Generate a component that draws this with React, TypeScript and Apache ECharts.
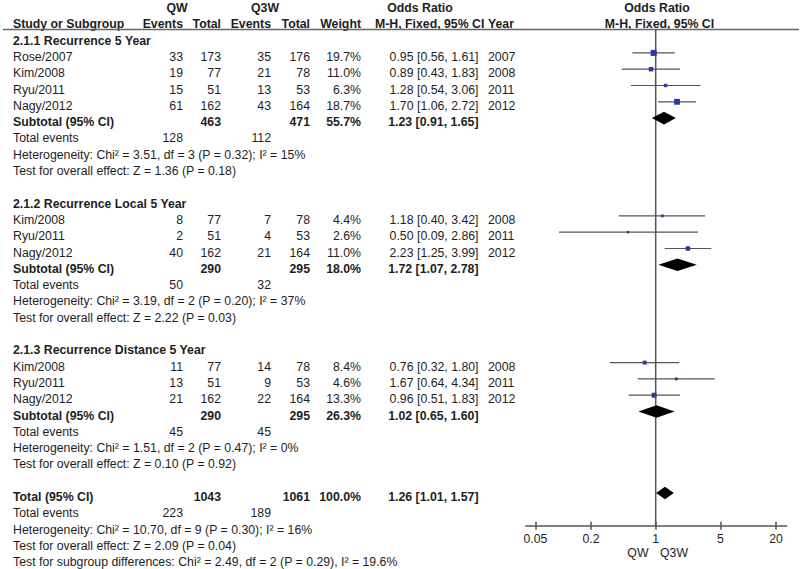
import React, { useEffect, useRef } from "react";
import * as echarts from "echarts";

// ---------- data ----------
const groupTitles = [
  "2.1.1 Recurrence 5 Year",
  "2.1.2 Recurrence Local 5 Year",
  "2.1.3 Recurrence Distance 5 Year",
];
const studyGroup = [0, 0, 0, 0, 1, 1, 1, 2, 2, 2];
const studyNames = [
  "Rose/2007", "Kim/2008", "Ryu/2011", "Nagy/2012",
  "Kim/2008", "Ryu/2011", "Nagy/2012",
  "Kim/2008", "Ryu/2011", "Nagy/2012",
];
const qwEvents = [33, 19, 15, 61, 8, 2, 40, 11, 13, 21];
const qwTotal = [173, 77, 51, 162, 77, 51, 162, 77, 51, 162];
const q3wEvents = [35, 21, 13, 43, 7, 4, 21, 14, 9, 22];
const q3wTotal = [176, 78, 53, 164, 78, 53, 164, 78, 53, 164];
const weights = [19.7, 11.0, 6.3, 18.7, 4.4, 2.6, 11.0, 8.4, 4.6, 13.3];
const oddsRatio = [0.95, 0.89, 1.28, 1.7, 1.18, 0.5, 2.23, 0.76, 1.67, 0.96];
const ciLow = [0.56, 0.43, 0.54, 1.06, 0.4, 0.09, 1.25, 0.32, 0.64, 0.51];
const ciHigh = [1.61, 1.83, 3.06, 2.72, 3.42, 2.86, 3.99, 1.8, 4.34, 1.83];
const years = [2007, 2008, 2011, 2012, 2008, 2011, 2012, 2008, 2011, 2012];

const subQwTotal = [463, 290, 290];
const subQ3wTotal = [471, 295, 295];
const subWeight = [55.7, 18.0, 26.3];
const subOR = [1.23, 1.72, 1.02];
const subLow = [0.91, 1.07, 0.65];
const subHigh = [1.65, 2.78, 1.6];
const subQwEvents = [128, 50, 45];
const subQ3wEvents = [112, 32, 45];
const subHet = [
  "Heterogeneity: Chi² = 3.51, df = 3 (P = 0.32); I² = 15%",
  "Heterogeneity: Chi² = 3.19, df = 2 (P = 0.20); I² = 37%",
  "Heterogeneity: Chi² = 1.51, df = 2 (P = 0.47); I² = 0%",
];
const subTest = [
  "Test for overall effect: Z = 1.36 (P = 0.18)",
  "Test for overall effect: Z = 2.22 (P = 0.03)",
  "Test for overall effect: Z = 0.10 (P = 0.92)",
];

const totalQwTotal = 1043;
const totalQ3wTotal = 1061;
const totalWeight = 100.0;
const totalOR = 1.26;
const totalLow = 1.01;
const totalHigh = 1.57;
const totalQwEvents = 223;
const totalQ3wEvents = 189;
const totalHet = "Heterogeneity: Chi² = 10.70, df = 9 (P = 0.30); I² = 16%";
const totalTest = "Test for overall effect: Z = 2.09 (P = 0.04)";
const subgroupTest = "Test for subgroup differences: Chi² = 2.49, df = 2 (P = 0.29), I² = 19.6%";

const axisTickValues = [0.05, 0.2, 1, 5, 20];

// ---------- layout ----------
const FONT = '"Liberation Sans", Arial, Helvetica, sans-serif';
const FS = 12.3;
const TXT = "#1e1e1e";
const ROW0 = 4;
const ROWH = 16.3;
const GRID_LEFT = 525.7;
const GRID_W = 261;
const AXIS_Y = 525.7;
const YMAX = (AXIS_Y - ROW0) / ROWH;
const XMIN = -1.4054;
const XMAX = 1.4162;
const HEADER_LINE_Y = 29.5;

const COL = {
  study: 13,
  qwEv: 183,
  qwTot: 221,
  q3wEv: 271,
  q3wTot: 310,
  weight: 361,
  or: 478.5,
  year: 488,
};

const textY = (row: number) => ROW0 + ROWH * row + 4;

function txt(text: string, x: number, y: number, align: string, bold = false) {
  return {
    type: "text",
    x,
    y,
    silent: true,
    style: {
      text,
      fill: TXT,
      font: `${bold ? "bold " : ""}${FS}px ${FONT}`,
      align,
      textAlign: align,
      verticalAlign: "middle",
      textVerticalAlign: "middle",
    },
  };
}

const fmtOR = (o: number, l: number, h: number) =>
  `${o.toFixed(2)} [${l.toFixed(2)}, ${h.toFixed(2)}]`;

function buildOption() {
  const graphics: any[] = [];
  const studyData: any[] = [];
  const diamondData: any[] = [];

  // headers
  graphics.push(txt("QW", 177, textY(0), "center", true));
  graphics.push(txt("Q3W", 265, textY(0), "center", true));
  graphics.push(txt("Odds Ratio", 420, textY(0), "center", true));
  graphics.push(txt("Odds Ratio", 657, textY(0), "center", true));
  graphics.push(txt("Study or Subgroup", COL.study, textY(1), "left", true));
  graphics.push(txt("Events", COL.qwEv, textY(1), "right", true));
  graphics.push(txt("Total", COL.qwTot, textY(1), "right", true));
  graphics.push(txt("Events", COL.q3wEv, textY(1), "right", true));
  graphics.push(txt("Total", COL.q3wTot, textY(1), "right", true));
  graphics.push(txt("Weight", COL.weight, textY(1), "right", true));
  graphics.push(txt("M-H, Fixed, 95% CI", 375, textY(1), "left", true));
  graphics.push(txt("Year", COL.year, textY(1), "left", true));
  graphics.push(txt("M-H, Fixed, 95% CI", 659.5, textY(1), "center", true));
  graphics.push({
    type: "line",
    silent: true,
    shape: { x1: 3, y1: HEADER_LINE_Y, x2: 799, y2: HEADER_LINE_Y },
    style: { stroke: "#666", lineWidth: 1.5 },
  });

  let row = 2;
  groupTitles.forEach((title, g) => {
    graphics.push(txt(title, COL.study, textY(row), "left", true));
    row++;
    studyNames.forEach((name, i) => {
      if (studyGroup[i] !== g) return;
      const y = textY(row);
      graphics.push(txt(name, COL.study, y, "left"));
      graphics.push(txt(String(qwEvents[i]), COL.qwEv, y, "right"));
      graphics.push(txt(String(qwTotal[i]), COL.qwTot, y, "right"));
      graphics.push(txt(String(q3wEvents[i]), COL.q3wEv, y, "right"));
      graphics.push(txt(String(q3wTotal[i]), COL.q3wTot, y, "right"));
      graphics.push(txt(weights[i].toFixed(1) + "%", COL.weight, y, "right"));
      graphics.push(txt(fmtOR(oddsRatio[i], ciLow[i], ciHigh[i]), COL.or, y, "right"));
      graphics.push(txt(String(years[i]), COL.year, y, "left"));
      studyData.push([
        Math.log10(oddsRatio[i]),
        Math.log10(ciLow[i]),
        Math.log10(ciHigh[i]),
        row,
        weights[i],
      ]);
      row++;
    });
    let y = textY(row);
    graphics.push(txt("Subtotal (95% CI)", COL.study, y, "left", true));
    graphics.push(txt(String(subQwTotal[g]), COL.qwTot, y, "right", true));
    graphics.push(txt(String(subQ3wTotal[g]), COL.q3wTot, y, "right", true));
    graphics.push(txt(subWeight[g].toFixed(1) + "%", COL.weight, y, "right", true));
    graphics.push(txt(fmtOR(subOR[g], subLow[g], subHigh[g]), COL.or, y, "right", true));
    diamondData.push([Math.log10(subOR[g]), Math.log10(subLow[g]), Math.log10(subHigh[g]), row]);
    row++;
    y = textY(row);
    graphics.push(txt("Total events", COL.study, y, "left"));
    graphics.push(txt(String(subQwEvents[g]), COL.qwEv, y, "right"));
    graphics.push(txt(String(subQ3wEvents[g]), COL.q3wEv, y, "right"));
    row++;
    graphics.push(txt(subHet[g], COL.study, textY(row), "left"));
    row++;
    graphics.push(txt(subTest[g], COL.study, textY(row), "left"));
    row++;
    row++; // blank
  });

  let y = textY(row);
  graphics.push(txt("Total (95% CI)", COL.study, y, "left", true));
  graphics.push(txt(String(totalQwTotal), COL.qwTot, y, "right", true));
  graphics.push(txt(String(totalQ3wTotal), COL.q3wTot, y, "right", true));
  graphics.push(txt(totalWeight.toFixed(1) + "%", COL.weight, y, "right", true));
  graphics.push(txt(fmtOR(totalOR, totalLow, totalHigh), COL.or, y, "right", true));
  diamondData.push([Math.log10(totalOR), Math.log10(totalLow), Math.log10(totalHigh), row]);
  row++;
  y = textY(row);
  graphics.push(txt("Total events", COL.study, y, "left"));
  graphics.push(txt(String(totalQwEvents), COL.qwEv, y, "right"));
  graphics.push(txt(String(totalQ3wEvents), COL.q3wEv, y, "right"));
  row++;
  graphics.push(txt(totalHet, COL.study, textY(row), "left"));
  row++;
  graphics.push(txt(totalTest, COL.study, textY(row), "left"));
  row++;
  graphics.push(txt(subgroupTest, COL.study, textY(row), "left"));

  // favours labels
  graphics.push(txt("QW", 648.5, 553, "right"));
  graphics.push(txt("Q3W", 660, 553, "left"));

  const tickLogs = axisTickValues.map((v) => Math.log10(v));
  const fmtTick = (v: number) => String(Number(Math.pow(10, v).toPrecision(2)));

  return {
    animation: false,
    grid: { left: GRID_LEFT, top: ROW0, width: GRID_W, height: AXIS_Y - ROW0 },
    xAxis: [
      {
        type: "value",
        min: XMIN,
        max: XMAX,
        position: "bottom",
        offset: 0,
        splitLine: { show: false },
        axisLine: { show: true, onZero: false, lineStyle: { color: "#555", width: 1.5 } },
        axisTick: {
          show: true,
          length: 4,
          customValues: tickLogs,
          lineStyle: { color: "#555", width: 1.5 },
        },
        axisLabel: {
          show: true,
          customValues: tickLogs,
          formatter: fmtTick,
          margin: 7,
          fontSize: FS,
          fontFamily: FONT,
          color: TXT,
        },
      },
      {
        type: "value",
        min: XMIN,
        max: XMAX,
        position: "bottom",
        offset: 0,
        splitLine: { show: false },
        axisLine: { show: false, onZero: false },
        axisTick: {
          show: true,
          inside: true,
          length: 4,
          customValues: tickLogs,
          lineStyle: { color: "#555", width: 1.5 },
        },
        axisLabel: { show: false },
      },
    ],
    yAxis: {
      type: "value",
      inverse: true,
      min: 0,
      max: YMAX,
      show: false,
      splitLine: { show: false },
    },
    series: [
      {
        type: "line",
        data: [
          [0, (HEADER_LINE_Y - ROW0) / ROWH],
          [0, YMAX],
        ],
        symbol: "none",
        silent: true,
        lineStyle: { color: "#555", width: 1.5 },
        z: 1,
      },
      {
        type: "custom",
        data: studyData,
        encode: { x: [0, 1, 2], y: 3 },
        clip: false,
        z: 3,
        renderItem: (params: any, api: any) => {
          const o = api.coord([api.value(0), api.value(3)]);
          const l = api.coord([api.value(1), api.value(3)]);
          const h = api.coord([api.value(2), api.value(3)]);
          const s = Math.max(2.4, 1.35 * Math.sqrt(api.value(4)));
          return {
            type: "group",
            children: [
              {
                type: "line",
                shape: { x1: l[0], y1: l[1], x2: h[0], y2: h[1] },
                style: { stroke: "#555", lineWidth: 1.2 },
              },
              {
                type: "rect",
                shape: { x: o[0] - s / 2, y: o[1] - s / 2, width: s, height: s },
                style: { fill: "#2b3a9c" },
              },
            ],
          };
        },
      },
      {
        type: "custom",
        data: diamondData,
        encode: { x: [0, 1, 2], y: 3 },
        clip: false,
        z: 4,
        renderItem: (params: any, api: any) => {
          const o = api.coord([api.value(0), api.value(3)]);
          const l = api.coord([api.value(1), api.value(3)]);
          const h = api.coord([api.value(2), api.value(3)]);
          const hh = 6.3;
          return {
            type: "polygon",
            shape: {
              points: [
                [l[0], l[1]],
                [o[0], o[1] - hh],
                [h[0], h[1]],
                [o[0], o[1] + hh],
              ],
            },
            style: { fill: "#000" },
          };
        },
      },
    ],
    graphic: graphics,
  };
}

export default function App() {
  const ref = useRef<HTMLDivElement>(null);
  useEffect(() => {
    if (!ref.current) return;
    const chart = echarts.init(ref.current, undefined, { renderer: "svg" });
    chart.setOption(buildOption() as any);
    return () => chart.dispose();
  }, []);
  return (
    <div
      ref={ref}
      style={{ position: "fixed", left: 0, top: 0, width: 800, height: 569, background: "#fff" }}
    />
  );
}
